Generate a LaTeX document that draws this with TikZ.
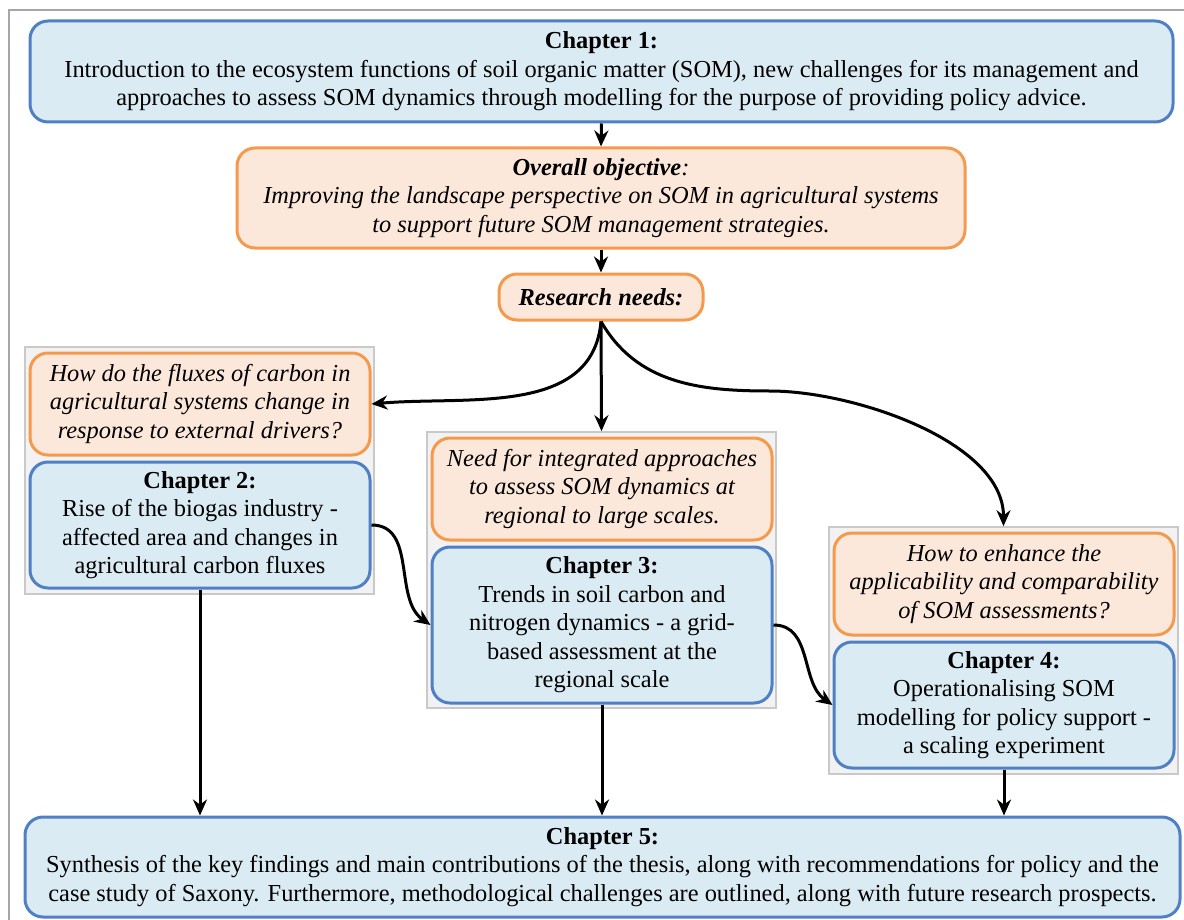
\documentclass[tikz,border=0pt]{standalone}
\usepackage{fontspec}
\setmainfont{Liberation Serif}
\usetikzlibrary{arrows.meta}
\definecolor{chapfill}{HTML}{DAEBF3}
\definecolor{chapline}{HTML}{4F7FC4}
\definecolor{needfill}{HTML}{FCE8DA}
\definecolor{needline}{HTML}{F59A4C}
\definecolor{grpfill}{HTML}{F2F2F2}
\definecolor{grpline}{HTML}{C9C9C9}
\newcommand{\boxfont}{\fontsize{12.2}{14.25}\selectfont}

\begin{document}
\begin{tikzpicture}[x=0.5pt, y=-0.5pt, line width=1.5pt,
        chap/.style={draw=chapline, fill=chapfill, rounded corners=9pt, align=center, inner sep=0pt, font=\boxfont},
        need/.style={draw=needline, fill=needfill, rounded corners=9pt, align=center, inner sep=0pt, font=\boxfont\itshape},
        grp/.style={draw=grpline, fill=grpfill, line width=0.8pt, inner sep=0pt},
        arr/.style={-{Stealth[length=8pt, width=7pt]}, line width=1.5pt}]
                \useasboundingbox (0, 0) rectangle (1184, 920);
                \draw[black!35, line width=1.2pt] (9, 10) rectangle (1200, 940);

                \node[chap, minimum width=571.5pt, minimum height=50.5pt] (ch1) at (601.5, 71.5)
                        {\textbf{Chapter 1:}\\Introduction to the ecosystem functions of soil organic matter (SOM), new challenges for its management and\\approaches to assess SOM dynamics through modelling for the purpose of providing policy advice.};
                \node[need, minimum width=364pt, minimum height=50pt] (obj) at (601, 198)
                        {\textbf{Overall objective}:\\Improving the landscape perspective on SOM in agricultural systems\\to support future SOM management strategies.};
                \node[need, minimum width=102pt, minimum height=23pt] (rn) at (601, 297) {\textbf{Research needs:}};

                \node[grp, minimum width=174.5pt, minimum height=123.5pt] (g2) at (199.5, 470.5) {};
                \node[need, minimum width=170pt, minimum height=51pt] (q1) at (200, 404)
                        {How do the fluxes of carbon in\\agricultural systems change in\\response to external drivers?};
                \node[chap, minimum width=170pt, minimum height=63pt] (ch2) at (200, 525)
                        {\textbf{Chapter 2:}\\Rise of the biogas industry -\\affected area and changes in\\agricultural carbon fluxes};

                \node[grp, minimum width=174.5pt, minimum height=138pt] (g3) at (601.5, 570) {};
                \node[need, minimum width=170pt, minimum height=51pt] (q2) at (602, 489)
                        {Need for integrated approaches\\to assess SOM dynamics at\\regional to large scales.};
                \node[chap, minimum width=170pt, minimum height=78pt] (ch3) at (602, 625)
                        {\textbf{Chapter 3:}\\Trends in soil carbon and\\nitrogen dynamics - a grid-\\based assessment at the\\regional scale};

                \node[grp, minimum width=174.5pt, minimum height=123.5pt] (g4) at (1003.5, 650.5) {};
                \node[need, minimum width=170pt, minimum height=51pt] (q3) at (1004, 584)
                        {How to enhance the\\applicability and comparability\\of SOM assessments?};
                \node[chap, minimum width=170pt, minimum height=63pt] (ch4) at (1004, 705)
                        {\textbf{Chapter 4:}\\Operationalising SOM\\modelling for policy support -\\a scaling experiment};

                \node[chap, minimum width=577.5pt, minimum height=50pt] (ch5) at (602.5, 867)
                        {\textbf{Chapter 5:}\\Synthesis of the key findings and main contributions of the thesis, along with recommendations for policy and the\\case study of Saxony. Furthermore, methodological challenges are outlined, along with future research prospects.};

                \coordinate (bend) at (770, 391);

                \draw[arr] (ch1.south) -- (obj.north);
                \draw[arr] (obj.south) -- (rn.north);
                \draw[arr] (rn.south) to[out=-95, in=5] (q1.east);
                \draw[arr] (rn.south) -- (g3.north);
                \draw[arr] (rn.south) to[out=-60, in=180] (bend) to[out=0, in=90, looseness=0.8] (g4.north);
                \draw[arr] (ch2.east) to[out=0, in=145] (ch3.west);
                \draw[arr] (ch3.east) to[out=0, in=145] (ch4.west);
                \draw[arr] (ch2.south) -- (ch2.south |- ch5.north);
                \draw[arr] (ch3.south) -- (ch3.south |- ch5.north);
                \draw[arr] (ch4.south) -- (ch4.south |- ch5.north);
        \end{tikzpicture}
\end{document}
